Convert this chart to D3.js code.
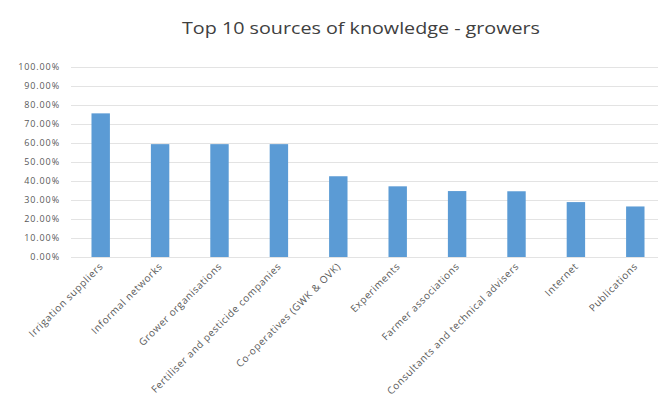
<!DOCTYPE html>
<html>
<head>
<meta charset="utf-8">
<script src="https://cdn.jsdelivr.net/npm/d3@7"></script>
<style>
	body { margin: 0; background: #fff; }
	svg { display: block; }
	.title { font-family: 'Open Sans', sans-serif; font-size: 17px; fill: #404040; }
	.ytick text { font-family: 'Open Sans', sans-serif; font-size: 9px; fill: #595959; letter-spacing: 0.9px; }
	.xlabel { font-family: 'Open Sans', sans-serif; font-size: 10px; fill: #595959; letter-spacing: 0.6px; }
</style>
</head>
<body>
<div id="chart"></div>
<script>
const categories = [
	'Irrigation suppliers',
	'Informal networks',
	'Grower organisations',
	'Fertiliser and pesticide companies',
	'Co-operatives (GWK & OVK)',
	'Experiments',
	'Farmer associations',
	'Consultants and technical advisers',
	'Internet',
	'Publications'
];
const values = [0.756, 0.594, 0.594, 0.594, 0.425, 0.372, 0.347, 0.346, 0.289, 0.266];
const yTicks = [0, 0.1, 0.2, 0.3, 0.4, 0.5, 0.6, 0.7, 0.8, 0.9, 1.0];

const width = 658;
const height = 410;
const margin = {top: 67, right: -7, bottom: 153, left: 71};

const svg = d3.select('#chart').append('svg')
	.attr('width', width)
	.attr('height', height);

const x = d3.scaleBand()
	.domain(categories)
	.range([margin.left, width - margin.right])
	.paddingInner(0.69)
	.paddingOuter(0.345);

const y = d3.scaleLinear()
	.domain([0, 1])
	.range([height - margin.bottom, margin.top]);

svg.append('text')
	.attr('class', 'title')
	.attr('x', 182)
	.attr('y', 34)
	.attr('textLength', 358)
	.attr('lengthAdjust', 'spacingAndGlyphs')
	.text('Top 10 sources of knowledge - growers');

// gridlines + y labels
const yAxis = svg.append('g').attr('class', 'ytick');
yAxis.selectAll('line')
	.data(yTicks)
	.join('line')
	.attr('x1', margin.left)
	.attr('x2', width)
	.attr('y1', d => Math.round(y(d)) + 0.5)
	.attr('y2', d => Math.round(y(d)) + 0.5)
	.attr('stroke', '#e3e3e3')
	.attr('stroke-width', 1);
yAxis.selectAll('text')
	.data(yTicks)
	.join('text')
	.attr('x', 60)
	.attr('y', d => y(d))
	.attr('dy', '0.35em')
	.attr('text-anchor', 'end')
	.text(d3.format('.2%'));

svg.append('g')
	.selectAll('rect')
	.data(values)
	.join('rect')
	.attr('x', (d, i) => x(categories[i]))
	.attr('y', d => y(d))
	.attr('width', x.bandwidth())
	.attr('height', d => y(0) - y(d))
	.attr('fill', '#5b9bd5');

svg.append('g')
	.selectAll('text')
	.data(categories)
	.join('text')
	.attr('class', 'xlabel')
	.attr('text-anchor', 'end')
	.attr('transform', d => 'translate(' + (x(d) + x.bandwidth() / 2 + 3) + ',' + (y(0) + 10) + ') rotate(-45)')
	.text(d => d);
</script>
</body>
</html>
